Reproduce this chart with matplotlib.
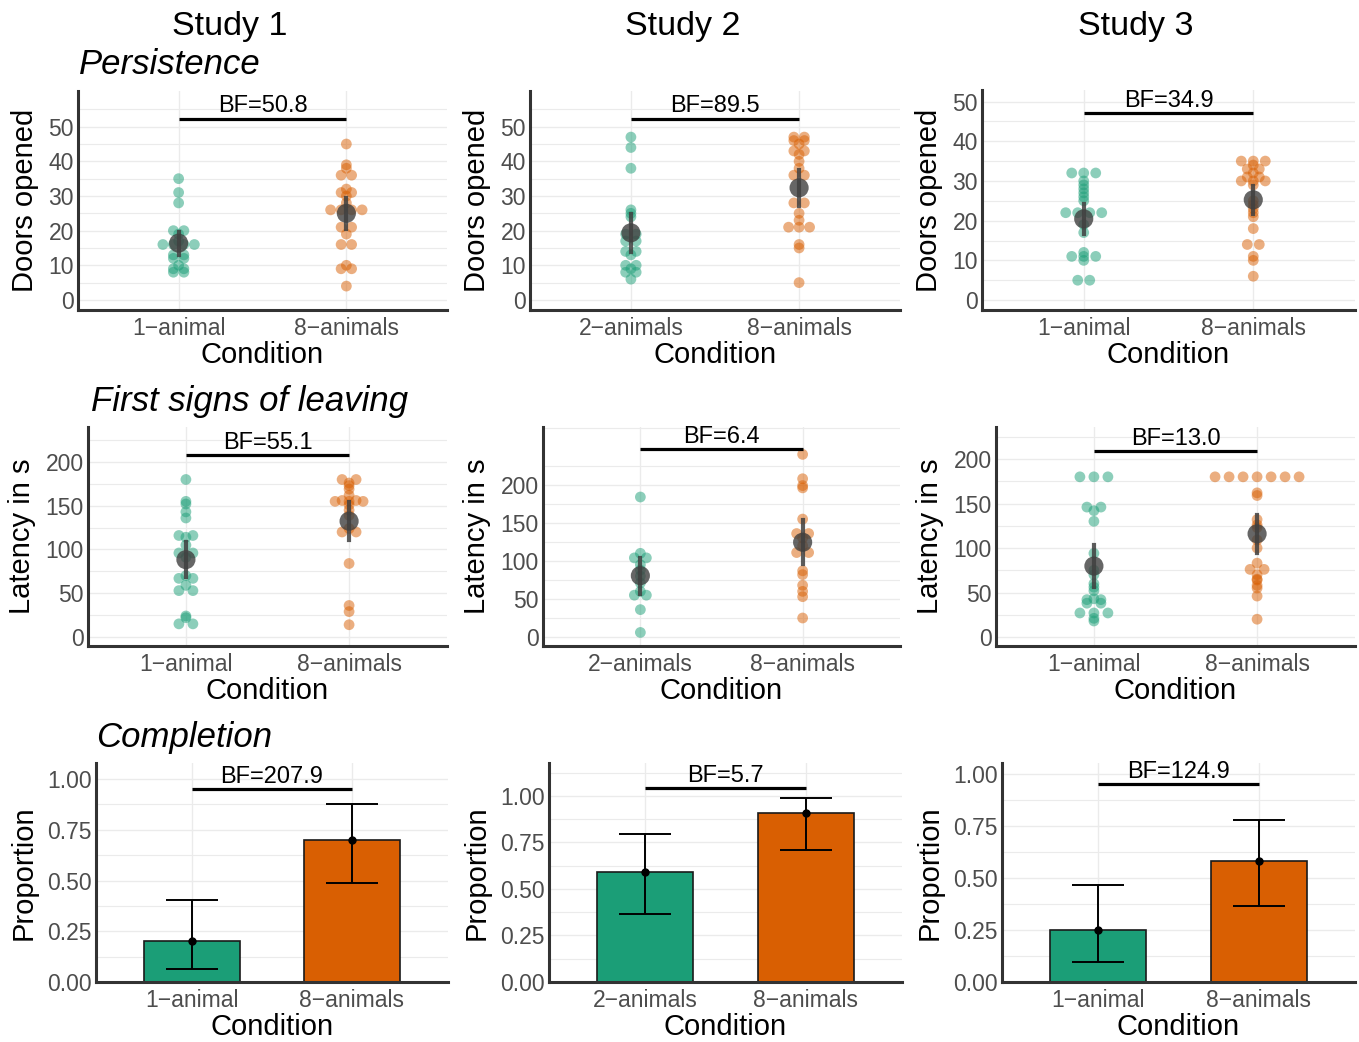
import numpy as np
import matplotlib
matplotlib.use("Agg")
import matplotlib.pyplot as plt

plt.rcParams['font.family'] = ['Liberation Sans', 'DejaVu Sans']

GREEN = '#1B9E77'
ORANGE = '#D95F02'
MEAN_COL = '#404040'

# === Datos ===
studies = ["Study 1", "Study 2", "Study 3"]
row_titles = ["Persistence", "First signs of leaving", "Completion"]
conditions = [["1\u2212animal", "8\u2212animals"],
              ["2\u2212animals", "8\u2212animals"],
              ["1\u2212animal", "8\u2212animals"]]
ylabels = ["Doors opened", "Latency in s", "Proportion"]

# Persistence (doors opened), por estudio: [grupo pequeño, 8-animals]
doors_s1 = [[35, 31, 28, 20, 20, 19, 17, 16, 16, 16, 16, 13, 13, 12, 12, 10, 9, 9, 8, 8],
            [45, 39, 38, 36, 36, 32, 31, 31, 30, 28, 26, 26, 26, 26, 21, 21, 19, 16, 16, 10, 9, 9, 4]]
doors_s2 = [[47, 44, 38, 26, 25, 24, 19, 19, 17, 17, 14, 14, 13, 10, 10, 9, 8, 8, 6],
            [47, 47, 46, 46, 45, 43, 43, 42, 40, 38, 36, 36, 28, 28, 25, 23, 21, 21, 21, 16, 15, 5]]
doors_s3 = [[32, 32, 32, 30, 29, 28, 27, 26, 25, 22, 22, 22, 22, 19, 17, 12, 11, 11, 11, 10, 5, 5],
            [35, 35, 35, 34, 33, 33, 32, 31, 31, 30, 30, 30, 29, 25, 24, 23, 22, 21, 18, 14, 14, 11, 10, 6]]

# First signs of leaving (latency in s)
latency_s1 = [[180, 155, 152, 143, 136, 116, 116, 114, 105, 96, 96, 91, 70, 67, 67, 59, 53, 53, 24, 22, 15, 15],
              [180, 180, 176, 173, 169, 162, 156, 156, 155, 155, 155, 151, 145, 139, 124, 120, 120, 84, 36, 29, 14]]
latency_s2 = [[184, 110, 104, 104, 95, 88, 80, 71, 60, 55, 55, 36, 6],
              [240, 208, 199, 196, 155, 136, 136, 130, 120, 111, 111, 87, 82, 68, 60, 53, 25]]
latency_s3 = [[180, 180, 180, 146, 146, 142, 130, 94, 75, 70, 60, 56, 52, 43, 42, 42, 38, 38, 27, 27, 27, 21, 18],
              [180, 180, 180, 180, 180, 180, 180, 162, 159, 132, 126, 123, 109, 100, 83, 76, 76, 70, 65, 64,
               58, 55, 46, 20]]

# Completion (proportion + intervalo)
completion_prop = [[0.20, 0.70], [0.59, 0.91], [0.25, 0.58]]
completion_lo = [[0.065, 0.49], [0.365, 0.71], [0.097, 0.366]]
completion_hi = [[0.404, 0.875], [0.794, 0.99], [0.466, 0.777]]

bf_labels = [["BF=50.8", "BF=89.5", "BF=34.9"],
             ["BF=55.1", "BF=6.4", "BF=13.0"],
             ["BF=207.9", "BF=5.7", "BF=124.9"]]
bf_height = [[52.3, 52.3, 47.0],
             [208, 247, 209],
             [0.951, 1.043, 0.952]]

scatter_data = [[doors_s1, doors_s2, doors_s3],
                [latency_s1, latency_s2, latency_s3]]

# === Layout (pixeles) ===
W, H = 1359, 1042
boxes = [[(78, 447, 91, 310), (530, 900, 91, 310), (982, 1355, 90, 310)],
         [(88, 447, 427, 646), (543, 900, 427, 646), (996, 1355, 427, 646)],
         [(96, 448, 763, 982), (549, 902, 763, 982), (1002, 1355, 763, 982)]]
ylims = [[(-2.9, 60.3), (-2.9, 60.3), (-2.5, 52.9)],
         [(-10.3, 240), (-11.8, 276), (-10.1, 236)],
         [(0, 1.079), (0, 1.177), (0, 1.053)]]
major_ticks = [np.arange(0, 51, 10), np.arange(0, 201, 50), np.arange(0, 1.01, 0.25)]
minor_step = [5, 25, 0.125]
swarm_px = [[10.5, 10.5, 12], [14, 12, 14]]

fig = plt.figure(figsize=(W / 100, H / 100), dpi=100)


def add_ax(box):
    l, r, t, b = box
    return fig.add_axes([l / W, 1 - b / H, (r - l) / W, (b - t) / H])


def swarm_x(center, vals, spacing_px, width_px):
    """Desplaza en x los puntos con el mismo valor, centrados (tipo beeswarm)."""
    vals = np.asarray(vals, float)
    s = spacing_px * 2.2 / width_px
    xs = np.full(len(vals), float(center))
    for v in np.unique(vals):
        idx = np.where(vals == v)[0]
        k = len(idx)
        xs[idx] = center + (np.arange(k) - (k - 1) / 2) * s
    return xs


def style_ax(ax, row, col):
    ax.set_xlim(-0.6, 1.6)
    ax.set_ylim(*ylims[row][col])
    lo, hi = ylims[row][col]
    ax.set_yticks(major_ticks[row])
    ax.set_yticks(np.arange(minor_step[row], hi, minor_step[row] * 2), minor=True)
    if row == 2:
        ax.set_yticklabels([f"{t:.2f}" for t in major_ticks[row]])
    ax.set_xticks([0, 1])
    ax.set_xticklabels(conditions[col])
    ax.grid(True, which='major', color='#EBEBEB', lw=1.0, zorder=0)
    ax.grid(True, which='minor', axis='y', color='#EBEBEB', lw=0.8, zorder=0)
    ax.set_axisbelow(True)
    for sp in ['top', 'right']:
        ax.spines[sp].set_visible(False)
    for sp in ['left', 'bottom']:
        ax.spines[sp].set_color('#333333')
        ax.spines[sp].set_linewidth(2.2)
    ax.tick_params(which='both', length=0, labelsize=16.5, labelcolor='#4D4D4D', pad=3)
    ax.tick_params(axis='x', pad=5)
    ax.set_xlabel("Condition", fontsize=21, labelpad=1)
    ax.set_ylabel(ylabels[row], fontsize=21, labelpad=7)
    # anotación del Bayes factor
    y = bf_height[row][col]
    ax.plot([0, 1], [y, y], color='black', lw=2.3, solid_capstyle='butt', zorder=6)
    ax.annotate(bf_labels[row][col], xy=(0.5, y), xytext=(0, 1.0), textcoords='offset points',
                ha='center', va='bottom', fontsize=17, color='black')


colors = [GREEN, ORANGE]

for row in range(3):
    for col in range(3):
        ax = add_ax(boxes[row][col])
        width_px = boxes[row][col][1] - boxes[row][col][0]
        if row < 2:
            groups = scatter_data[row][col]
            for i, vals in enumerate(groups):
                xs = swarm_x(i, vals, swarm_px[row][col], width_px)
                ax.scatter(xs, vals, s=60, color=colors[i], alpha=0.5, edgecolors='none', zorder=3)
                v = np.asarray(vals, float)
                m = v.mean()
                ci = 1.96 * v.std(ddof=1) / np.sqrt(len(v))
                ax.plot([i, i], [m - ci, m + ci], color=MEAN_COL, lw=3, alpha=0.85, zorder=4)
                ax.scatter([i], [m], s=190, color=MEAN_COL, alpha=0.8, edgecolors='none', zorder=5)
        else:
            p = np.array(completion_prop[col])
            lo = np.array(completion_lo[col])
            hi = np.array(completion_hi[col])
            ax.bar([0, 1], p, width=0.6, color=colors, edgecolor='#1a1a1a', lw=1.2, zorder=2)
            ax.errorbar([0, 1], p, yerr=[p - lo, hi - p], fmt='o', color='black', ms=5,
                        capsize=19, elinewidth=1.4, capthick=1.4, zorder=3)
        style_ax(ax, row, col)

# títulos de columna y de fila
for i, s in enumerate(studies):
    fig.text((230 + 453 * i) / W, 1 - 26 / H, s, ha='center', va='center', fontsize=24.5)

row_title_pos = [(79, 65), (91, 402), (96, 738)]
for (x, y), t in zip(row_title_pos, row_titles):
    fig.text(x / W, 1 - y / H, t, ha='left', va='center', fontsize=25, style='italic')

fig.savefig("out.png", dpi=100)
